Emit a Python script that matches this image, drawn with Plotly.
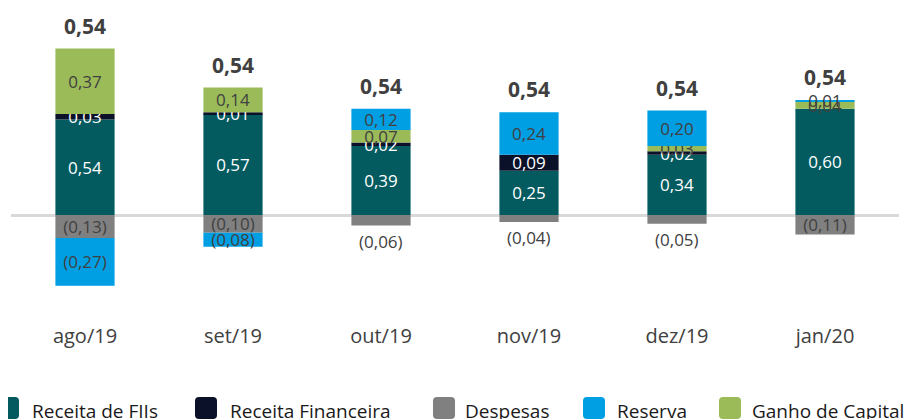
import plotly.graph_objects as go

# ---- data ----
categories = ["ago/19", "set/19", "out/19", "nov/19", "dez/19", "jan/20"]
receita_fiis = [0.54, 0.57, 0.39, 0.25, 0.34, 0.60]
receita_financeira = [0.03, 0.01, 0.02, 0.09, 0.02, None]
despesas = [-0.13, -0.10, -0.06, -0.04, -0.05, -0.11]
ganho_capital = [0.37, 0.14, 0.07, None, 0.03, 0.04]
reserva = [-0.27, -0.08, 0.12, 0.24, 0.20, 0.01]

FONT = "Open Sans"
DARK = "#404040"

# page offset (default body margin of the html page)
OFF = 8
W, H = 909, 411
# plot area in page pixels
PLOT_X0, PLOT_X1 = 11, 899
PLOT_Y0, PLOT_Y1 = 8, 320
ZERO_PX = 215
PX_PER_UNIT = 177.0

L = PLOT_X0 - OFF
R = W - (PLOT_X1 - OFF)
T = PLOT_Y0 - OFF
B = H - (PLOT_Y1 - OFF)
PW = PLOT_X1 - PLOT_X0
PH = PLOT_Y1 - PLOT_Y0


def fmt(v):
    s = f"{abs(v):.2f}".replace(".", ",")
    return f"({s})" if v < 0 else s


def px_x(px):
    return (px - PLOT_X0) / PW


def px_y(py):
    return (PLOT_Y1 - py) / PH


series = [
    ("Receita de FIIs", receita_fiis, "#035B5F", "white"),
    ("Receita Financeira", receita_financeira, "#0A1128", "white"),
    ("Despesas", despesas, "#808080", DARK),
    ("Ganho de Capital", ganho_capital, "#9BBB59", DARK),
    ("Reserva", reserva, "#009FE3", DARK),
]

fig = go.Figure()
for name, vals, color, tcolor in series:
    texts = []
    for v in vals:
        if v is None:
            texts.append("")
        elif name == "Despesas" and abs(v) < 0.10:
            texts.append("")  # labelled below the bar instead
        else:
            texts.append(fmt(v))
    fig.add_bar(
        x=categories, y=vals, name=name, width=0.4,
        marker=dict(color=color, line=dict(width=0)),
        text=texts, textposition="inside", insidetextanchor="middle",
        textangle=0, constraintext="none",
        textfont=dict(family=FONT, size=17, color=tcolor),
        showlegend=False, hoverinfo="skip",
    )

annotations = []
# small expense labels below their bars
for c, v in zip(categories, despesas):
    if abs(v) < 0.10:
        annotations.append(dict(x=c, y=v, xref="x", yref="y", text=fmt(v),
                                showarrow=False, yanchor="top", yshift=-2,
                                font=dict(family=FONT, size=17, color=DARK)))
# totals above bars
for i, c in enumerate(categories):
    vals = [s[1][i] for s in series]
    total = sum(v for v in vals if v is not None)
    top = sum(v for v in vals if v is not None and v > 0)
    annotations.append(dict(x=c, y=top, xref="x", yref="y",
                            text=f"<b>{fmt(total)}</b>", showarrow=False,
                            yanchor="bottom", yshift=7,
                            font=dict(family=FONT, size=21, color=DARK)))

# manual legend (page pixels)
legend_items = [
    ("Receita de FIIs", "#035B5F", -3, 30),
    ("Receita Financeira", "#0A1128", 195, 228),
    ("Despesas", "#808080", 433, 463),
    ("Reserva", "#009FE3", 583, 615),
    ("Ganho de Capital", "#9BBB59", 719, 750),
]
shapes = []
SQ = 22
SQ_TOP = 397
RAD = 4


def rrect(x0, y0, x1, y1, r):
    X = px_x
    Y = px_y
    return (f"M{X(x0 + r)},{Y(y0)} L{X(x1 - r)},{Y(y0)} Q{X(x1)},{Y(y0)} {X(x1)},{Y(y0 + r)} "
            f"L{X(x1)},{Y(y1 - r)} Q{X(x1)},{Y(y1)} {X(x1 - r)},{Y(y1)} "
            f"L{X(x0 + r)},{Y(y1)} Q{X(x0)},{Y(y1)} {X(x0)},{Y(y1 - r)} "
            f"L{X(x0)},{Y(y0 + r)} Q{X(x0)},{Y(y0)} {X(x0 + r)},{Y(y0)} Z")


for text, color, sx, tx in legend_items:
    shapes.append(dict(type="path", xref="paper", yref="paper",
                       path=rrect(sx, SQ_TOP, sx + SQ, SQ_TOP + SQ, RAD),
                       fillcolor=color, line=dict(width=0)))
    annotations.append(dict(x=px_x(tx), y=px_y(411), xref="paper", yref="paper",
                            text=text, showarrow=False, xanchor="left",
                            yanchor="middle",
                            font=dict(family=FONT, size=19, color="#1a1a1a")))

y_top = (ZERO_PX - PLOT_Y0) / PX_PER_UNIT
y_bot = -(PLOT_Y1 - ZERO_PX) / PX_PER_UNIT

fig.update_layout(
    width=W, height=H,
    margin=dict(l=L, r=R, t=T, b=B, pad=0),
    barmode="relative",
    plot_bgcolor="white", paper_bgcolor="white",
    uniformtext=dict(minsize=17, mode="show"),
    annotations=annotations,
    shapes=shapes,
    showlegend=False,
    xaxis=dict(type="category", showgrid=False, showline=False, zeroline=False,
               ticks="", tickfont=dict(family=FONT, size=20, color=DARK),
               ticklabelstandoff=2),
    yaxis=dict(range=[y_bot, y_top], showgrid=False, showline=False,
               showticklabels=False, ticks="", zeroline=True,
               zerolinecolor="#D9D9D9", zerolinewidth=3),
)

fig.write_html("out.html")
